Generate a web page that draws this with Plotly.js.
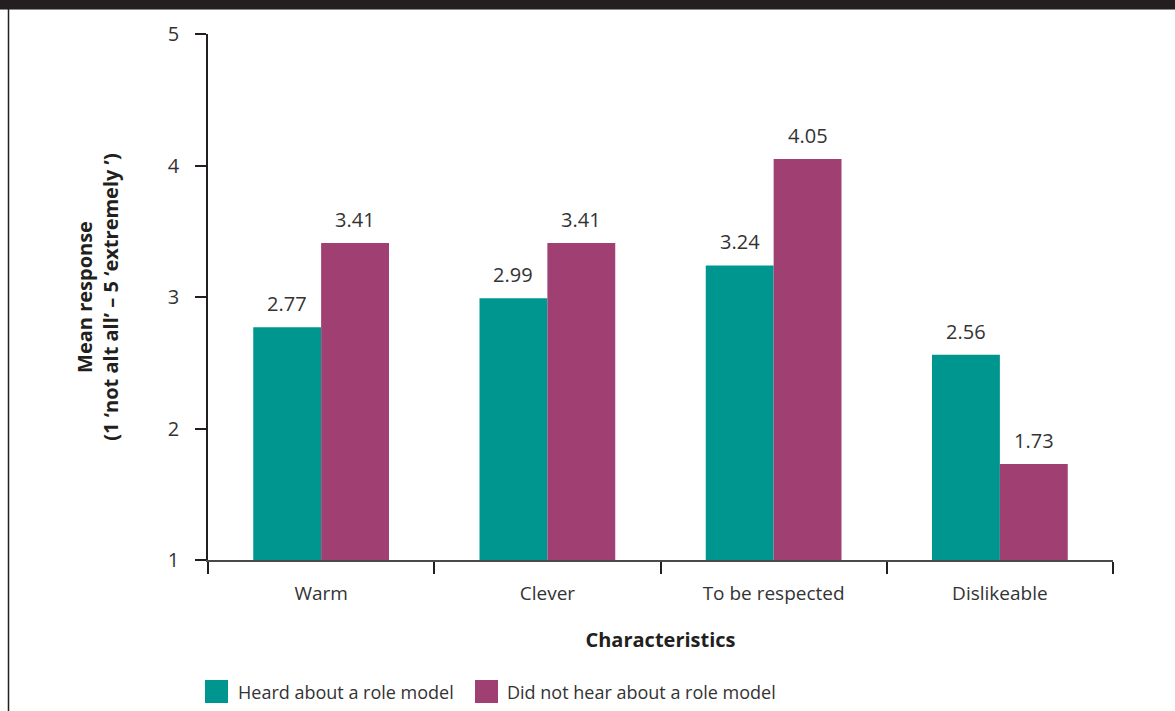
<!DOCTYPE html>
<html>
<head>
<meta charset="utf-8">
<script src="https://cdn.plot.ly/plotly-3.0.1.min.js"></script>
<style>
  html, body { margin: 0; padding: 0; background: #fff; }
  #chart { width: 1175px; height: 711px; }
</style>
</head>
<body>
<div id="chart"></div>
<script>
// ---- data ----
const categories = ["Warm", "Clever", "To be respected", "Dislikeable"];
const heardValues = [2.77, 2.99, 3.24, 2.56];
const notHeardValues = [3.41, 3.41, 4.05, 1.73];
const seriesNames = ["Heard about a role model", "Did not hear about a role model"];
const yTickValues = [1, 2, 3, 4, 5];
const xAxisTitle = "Characteristics";
const yAxisTitle = "Mean response<br>(1 \u2018not alt all\u2019 \u2013 5 \u2018extremely \u2019)";

// ---- style ----
const W = 1175, H = 711;
const M = { l: 208, r: 62, t: 34, b: 151 };
const PW = W - M.l - M.r, PH = H - M.t - M.b;
const px = x => (x - M.l) / PW;
const py = y => (H - M.b - y) / PH;
const teal = "#009690";
const plum = "#a04072";
const ink = "#231f20";
const textCol = "#333333";
const FONT = "Open Sans, Noto Sans, sans-serif";
const BARGAP = 0.4;

const traces = [
  { type: "bar", name: seriesNames[0], x: categories, y: heardValues,
    marker: { color: teal }, hoverinfo: "x+y" },
  { type: "bar", name: seriesNames[1], x: categories, y: notHeardValues,
    marker: { color: plum }, hoverinfo: "x+y" }
];

// value labels above bars, positioned through the axis scales
const barW = (PW / categories.length) * (1 - BARGAP) / 2;
const annotations = [];
[heardValues, notHeardValues].forEach((vals, si) => {
  vals.forEach((v, i) => {
    annotations.push({
      x: categories[i], y: v, xref: "x", yref: "y",
      text: v.toFixed(2), showarrow: false,
      xshift: (si === 0 ? -1 : 1) * barW / 2,
      yanchor: "bottom", yshift: 8,
      font: { family: FONT, size: 20, color: textCol }
    });
  });
});

// frame and manual legend (large swatches)
const shapes = [
  { type: "rect", xref: "paper", yref: "paper", x0: px(-5), x1: px(W + 5), y0: py(9), y1: py(-5),
    fillcolor: ink, line: { width: 0 }, layer: "above" },
  { type: "line", xref: "paper", yref: "paper", x0: px(0), x1: px(W), y0: py(9.5), y1: py(9.5),
    line: { color: "#8a8a8a", width: 1 } },
  { type: "line", xref: "paper", yref: "paper", x0: px(8.5), x1: px(8.5), y0: py(9), y1: py(H + 2),
    line: { color: ink, width: 1.5 } }
];
const legendItems = [
  { name: seriesNames[0], color: teal, sx: 205, tx: 236 },
  { name: seriesNames[1], color: plum, sx: 475, tx: 505 }
];
legendItems.forEach(it => {
  shapes.push({ type: "rect", xref: "paper", yref: "paper",
    x0: px(it.sx), x1: px(it.sx + 23), y0: py(703), y1: py(680),
    fillcolor: it.color, line: { width: 0 } });
  annotations.push({ xref: "paper", yref: "paper", x: px(it.tx), y: py(691.5),
    xanchor: "left", yanchor: "middle", showarrow: false, text: it.name,
    font: { family: FONT, size: 18, color: textCol } });
});

const layout = {
  width: W, height: H,
  margin: M,
  paper_bgcolor: "#ffffff", plot_bgcolor: "#ffffff",
  font: { family: FONT, size: 19, color: textCol },
  barmode: "group", bargap: BARGAP, bargroupgap: 0,
  showlegend: false,
  xaxis: {
    type: "category",
    showline: true, linecolor: "#4a4a4a", linewidth: 1.5,
    ticks: "outside", tickson: "boundaries", ticklen: 12, tickcolor: ink, tickwidth: 1.5,
    showgrid: false, zeroline: false,
    tickfont: { family: FONT, size: 19, color: textCol },
    ticklabelstandoff: 15,
    title: { text: "<b>" + xAxisTitle + "</b>", standoff: 28,
             font: { family: FONT, size: 20, color: ink } }
  },
  yaxis: {
    range: [1, 5], tickvals: yTickValues,
    showline: true, linecolor: ink, linewidth: 1.5,
    ticks: "outside", ticklen: 11, tickcolor: ink, tickwidth: 1.5,
    showgrid: false, zeroline: false,
    tickfont: { family: FONT, size: 20, color: textCol },
    ticklabelstandoff: 12,
    title: { text: "<b>" + yAxisTitle + "</b>", standoff: 44,
             font: { family: FONT, size: 20, color: ink } }
  },
  shapes: shapes,
  annotations: annotations
};

Plotly.newPlot("chart", traces, layout, { displayModeBar: false });
</script>
</body>
</html>
